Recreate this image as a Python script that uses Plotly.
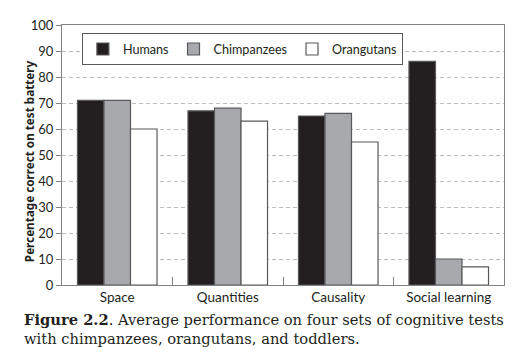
import plotly.graph_objects as go

categories = ["Space", "Quantities", "Causality", "Social learning"]
humans = [71, 67, 65, 86]
chimpanzees = [71, 68, 66, 10]
orangutans = [60, 63, 55, 7]
y_ticks = [0, 10, 20, 30, 40, 50, 60, 70, 80, 90, 100]

series = [
    ("Humans", humans, "#231f20"),
    ("Chimpanzees", chimpanzees, "#a7a9ac"),
    ("Orangutans", orangutans, "#ffffff"),
]

fig = go.Figure()
for name, vals, col in series:
    fig.add_trace(go.Bar(
        x=categories, y=vals, name=name,
        marker=dict(color=col, line=dict(color="#58595b", width=1.2)),
    ))

sans = "Lato"
fig.update_layout(
    width=524, height=358,
    margin=dict(l=62, r=20, t=25, b=73, autoexpand=False),
    paper_bgcolor="white", plot_bgcolor="white",
    barmode="group", bargap=0.28, bargroupgap=0,
    font=dict(family=sans, size=13, color="#231f20"),
    showlegend=True,
    legend=dict(
        orientation="h", x=0.045, y=0.968, xanchor="left", yanchor="top",
        bgcolor="white", bordercolor="#58595b", borderwidth=1,
        font=dict(family=sans, size=12.6, color="#231f20"),
        itemwidth=30, tracegroupgap=0,
    ),
    xaxis=dict(
        type="category", tickson="boundaries", ticks="inside", ticklen=8,
        tickcolor="#808285", tickwidth=1.2, automargin=False,
        showline=True, linecolor="#808285", linewidth=1.3, mirror=True,
        showgrid=False, tickfont=dict(family=sans, size=13.5),
    ),
    yaxis=dict(
        range=[0, 100], tickvals=y_ticks, ticks="outside", ticklen=5,
        tickcolor="#808285", showline=True, linecolor="#808285", linewidth=1.3,
        mirror=True, showgrid=True, gridcolor="#bcbec0", griddash="4px,3px",
        gridwidth=1, zeroline=False, tickfont=dict(family=sans, size=13),
        automargin=False,
    ),
)

# y-axis title
fig.add_annotation(
    xref="paper", yref="paper", x=-0.076, y=0.478, xanchor="center", yanchor="middle",
    text="<b>Percentage correct on test battery</b>", textangle=-90,
    showarrow=False, font=dict(family="Noto Sans", size=11.7, color="#231f20"),
)

serif = "DejaVu Serif"
fig.add_annotation(
    xref="paper", yref="paper", x=-0.09, y=-0.1346, xanchor="left", yanchor="middle",
    text="<b>Figure 2.2</b>. Average performance on four sets of cognitive tests",
    showarrow=False, font=dict(family=serif, size=14.7, color="#231f20"), align="left",
)
fig.add_annotation(
    xref="paper", yref="paper", x=-0.09, y=-0.204, xanchor="left", yanchor="middle",
    text="with chimpanzees, orangutans, and toddlers.",
    showarrow=False, font=dict(family=serif, size=14.7, color="#231f20"), align="left",
)

fig.write_html("out.html", config={"displayModeBar": False},
               post_script="document.body.style.margin='0px';")
